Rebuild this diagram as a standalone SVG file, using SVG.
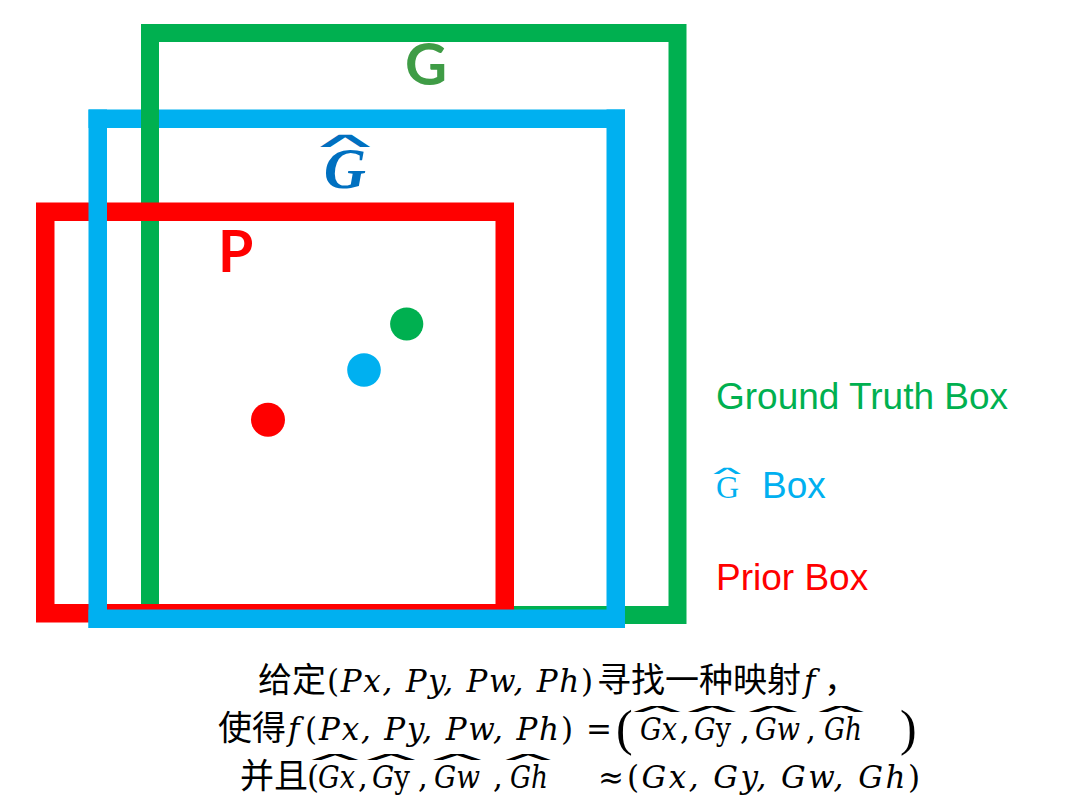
<svg xmlns="http://www.w3.org/2000/svg" width="1067" height="803" viewBox="0 0 1067 803">
<style>
.cjk{font-family:"Noto Sans CJK SC","Noto Sans",sans-serif;font-size:34px;fill:#000}
.m{font-family:"DejaVu Serif","Liberation Serif",serif;font-style:italic;font-size:31px;fill:#000}
.up{font-style:normal}
.big{font-family:"Liberation Serif",serif;font-style:normal;font-size:50px;fill:#000}
.hat{font-family:"DejaVu Sans",sans-serif;font-size:34px;fill:#000}
.legend{font-family:"Liberation Sans",Arial,sans-serif;font-size:37px}
.lbl{font-family:Lato,"Liberation Sans",sans-serif;font-weight:700;font-size:58px}
</style>
<rect width="1067" height="803" fill="#fff"/>
<g id="pred-box-top">
<rect x="88.5" y="109.5" width="536.5" height="18.5" fill="#00B0F0"/>
</g>
<g id="ground-truth-box">
<rect x="150" y="33" width="527.5" height="582" fill="none" stroke="#00B050" stroke-width="18"/>
<circle cx="406.7" cy="324" r="16.6" fill="#00B050"/>
<text class="lbl" x="405" y="85" style="fill:#3F9C46">G</text>
</g>
<g id="prior-box">
<rect x="45.25" y="211.75" width="459.5" height="401.5" fill="none" stroke="#FF0000" stroke-width="18.5"/>
<circle cx="268" cy="419.7" r="17" fill="#FF0000"/>
<text class="lbl" x="218" y="272" style="fill:#FF0000;font-size:57px">P</text>
</g>
<g id="pred-box">
<rect x="88.5" y="109.5" width="18.5" height="518.5" fill="#00B0F0"/>
<rect x="606.5" y="109.5" width="18.5" height="518.5" fill="#00B0F0"/>
<rect x="88.5" y="609.5" width="536.5" height="18.5" fill="#00B0F0"/>
<circle cx="364" cy="370" r="16.8" fill="#00B0F0"/>
<text x="324" y="188" font-family="Liberation Serif,serif" font-style="italic" font-weight="700" font-size="58" fill="#0070C0">G</text>
<text class="hat" text-anchor="middle" transform="translate(345,147) scale(3.1,0.62)" style="fill:#0070C0">∧</text>
</g>
<g id="legend">
<text class="legend" x="716" y="409" fill="#00B050">Ground Truth Box</text>
<text x="716" y="498" font-family="Liberation Serif,serif" font-size="32" fill="#00B0F0">G</text>
<text class="hat" text-anchor="middle" transform="translate(727,474) scale(2.4,0.45)" style="fill:#00B0F0;font-size:24px">∧</text>
<text class="legend" x="762" y="498" fill="#00B0F0">Box</text>
<text class="legend" x="716" y="590" fill="#FF0000">Prior Box</text>
</g>
<g id="formula">
<text class="cjk" x="258" y="692">给定</text>
<text class="m" x="327" y="692" textLength="266" lengthAdjust="spacing"><tspan class="up">(</tspan>Px, Py, Pw, Ph<tspan class="up">)</tspan></text>
<text class="cjk" x="597" y="692">寻找一种映射</text>
<text class="m" x="804" y="692">f</text>
<text class="cjk" x="824" y="692">，</text>

<text class="cjk" x="218" y="740">使得</text>
<text class="m" x="288" y="740">f</text>
<text class="m" x="305" y="740" textLength="268" lengthAdjust="spacing"><tspan class="up">(</tspan>Px, Py, Pw, Ph<tspan class="up">)</tspan></text>
<text class="m up" x="586" y="740">=</text>
<text class="big" x="616" y="745">(</text>
<text class="m" x="640" y="740" textLength="37" lengthAdjust="spacingAndGlyphs">Gx</text>
<text class="m up" x="680" y="740">,</text>
<text class="m" x="694" y="740" textLength="37" lengthAdjust="spacingAndGlyphs">G<tspan class="up">y</tspan></text>
<text class="m up" x="740" y="740">,</text>
<text class="m" x="755" y="740" textLength="45" lengthAdjust="spacingAndGlyphs">Gw</text>
<text class="m up" x="806" y="740">,</text>
<text class="m" x="824" y="740" textLength="38" lengthAdjust="spacingAndGlyphs">Gh</text>
<text class="big" x="900" y="745">)</text>
<text class="hat" text-anchor="middle" transform="translate(657,712) scale(2.9,0.3)">∧</text>
<text class="hat" text-anchor="middle" transform="translate(712,712) scale(3,0.3)">∧</text>
<text class="hat" text-anchor="middle" transform="translate(773,712) scale(3,0.3)">∧</text>
<text class="hat" text-anchor="middle" transform="translate(841,712) scale(2.8,0.3)">∧</text>

<text class="cjk" x="240" y="788">并且</text>
<text class="m up" x="307" y="788">(</text>
<text class="m" x="318" y="788" textLength="37" lengthAdjust="spacingAndGlyphs">Gx</text>
<text class="m up" x="358" y="788">,</text>
<text class="m" x="372" y="788" textLength="38" lengthAdjust="spacingAndGlyphs">G<tspan class="up">y</tspan></text>
<text class="m up" x="418" y="788">,</text>
<text class="m" x="434" y="788" textLength="46" lengthAdjust="spacingAndGlyphs">Gw</text>
<text class="m up" x="493" y="788">,</text>
<text class="m" x="510" y="788" textLength="38" lengthAdjust="spacingAndGlyphs">Gh</text>
<text class="hat" text-anchor="middle" transform="translate(335,760) scale(2.9,0.3)">∧</text>
<text class="hat" text-anchor="middle" transform="translate(391,760) scale(3,0.3)">∧</text>
<text class="hat" text-anchor="middle" transform="translate(457,760) scale(3,0.3)">∧</text>
<text class="hat" text-anchor="middle" transform="translate(528,760) scale(2.8,0.3)">∧</text>
<text class="m up" x="598" y="788">≈</text>
<text class="m" x="627" y="788" textLength="293" lengthAdjust="spacing"><tspan class="up">(</tspan>Gx, Gy, Gw, Gh<tspan class="up">)</tspan></text>
</g>
</svg>
